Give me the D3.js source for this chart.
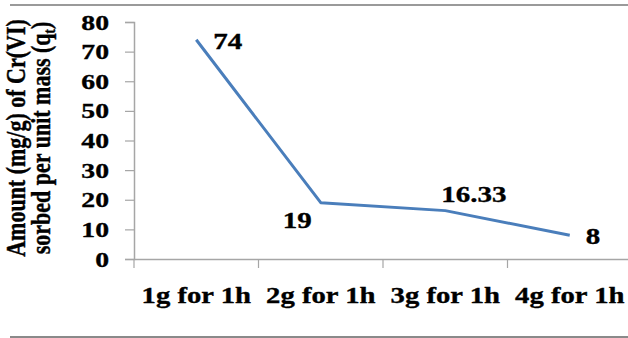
<!DOCTYPE html>
<html>
<head>
<meta charset="utf-8">
<script src="https://cdn.jsdelivr.net/npm/d3@7"></script>
<style>
  html, body { margin: 0; padding: 0; background: #fff; }
  svg { display: block; }
  text { font-family: "Liberation Serif", "Times New Roman", serif; font-weight: bold; fill: #000;
         stroke: #000; stroke-width: 0.35px; }
</style>
</head>
<body>
<svg id="chart" width="628" height="338"></svg>
<script>
// Sorbent dose categories and sorbed amount q_t (mg/g)
const categories = ["1g for 1h", "2g for 1h", "3g for 1h", "4g for 1h"];
const values = [74, 19, 16.33, 8];
const valueLabels = ["74", "19", "16.33", "8"];
const yTicks = [0, 10, 20, 30, 40, 50, 60, 70, 80];

const W = 628, H = 338;
const svg = d3.select("#chart");
const plot = { left: 134, right: 632, top: 22, bottom: 259 };
const stretch = 1.26; // horizontal widening applied to all glyphs

const x = d3.scaleBand().domain(categories).range([plot.left, plot.right]);
const y = d3.scaleLinear().domain([0, 80]).range([plot.bottom, plot.top]);

// widen horizontal text by a fixed factor
function widen(sel, factor) {
  sel.each(function () {
    const w = this.getComputedTextLength();
    d3.select(this).attr("textLength", w * factor).attr("lengthAdjust", "spacingAndGlyphs");
  });
}

// frame rules above and below the chart
svg.append("line").attr("x1", 10).attr("x2", W).attr("y1", 5).attr("y2", 5)
  .attr("stroke", "#9a9a9a").attr("stroke-width", 2);
svg.append("line").attr("x1", 10).attr("x2", W).attr("y1", 337).attr("y2", 337)
  .attr("stroke", "#8a8a8a").attr("stroke-width", 2);

// y axis
const yAxis = svg.append("g").attr("transform", `translate(${plot.left},0)`)
  .call(d3.axisLeft(y).tickValues(yTicks).tickSize(9).tickPadding(16).tickFormat(d3.format("d")));
yAxis.select(".domain").attr("stroke", "#a6a6a6").attr("stroke-width", 1.5);
yAxis.selectAll(".tick line").attr("stroke", "#a6a6a6").attr("stroke-width", 1.2);
yAxis.selectAll(".tick text").attr("font-size", 22).attr("fill", "#000")
  .call(widen, stretch);

// x axis
const xAxis = svg.append("g").attr("transform", `translate(0,${plot.bottom})`)
  .call(d3.axisBottom(x).tickSize(0).tickPadding(0));
xAxis.select(".domain").attr("stroke", "#a6a6a6").attr("stroke-width", 1.5);
xAxis.selectAll(".tick text").remove();
// category separators
xAxis.selectAll(".sep").data(categories).join("line").attr("class", "sep")
  .attr("x1", d => x(d)).attr("x2", d => x(d)).attr("y1", 0).attr("y2", 9)
  .attr("stroke", "#a6a6a6").attr("stroke-width", 1.2);
xAxis.selectAll(".cat").data(categories).join("text").attr("class", "cat")
  .attr("x", d => x(d) + x.bandwidth() / 2).attr("y", 44)
  .attr("text-anchor", "middle").attr("font-size", 23.5)
  .text(d => d)
  .call(widen, 1.22);

// y axis title, two lines, glyphs widened like the rest of the text
const title = svg.append("g").attr("transform", `translate(0,138) scale(${stretch},1) rotate(-90)`);
title.append("text").attr("text-anchor", "middle").attr("font-size", 22).attr("y", 20)
  .text("Amount (mg/g) of Cr(VI)");
const l2 = title.append("text").attr("text-anchor", "middle").attr("font-size", 22).attr("y", 39.5);
l2.append("tspan").text("sorbed per unit mass (q");
l2.append("tspan").attr("font-size", 13).attr("dy", 4).text("t");
l2.append("tspan").attr("dy", -4).text(")");

// data line
const cx = d => x(d) + x.bandwidth() / 2;
const line = d3.line().x((d, i) => cx(categories[i])).y(d => y(d));
svg.append("path").datum(values).attr("d", line)
  .attr("fill", "none").attr("stroke", "#4a7ebb").attr("stroke-width", 3)
  .attr("stroke-linejoin", "round");

// value labels
const labelOffsets = [[17, 9], [-38, 25], [-4, -9], [16, 9]];
svg.selectAll(".val").data(values).join("text").attr("class", "val")
  .attr("x", (d, i) => cx(categories[i]) + labelOffsets[i][0])
  .attr("y", (d, i) => y(d) + labelOffsets[i][1])
  .attr("font-size", 23)
  .text((d, i) => valueLabels[i])
  .call(widen, stretch);
</script>
</body>
</html>
